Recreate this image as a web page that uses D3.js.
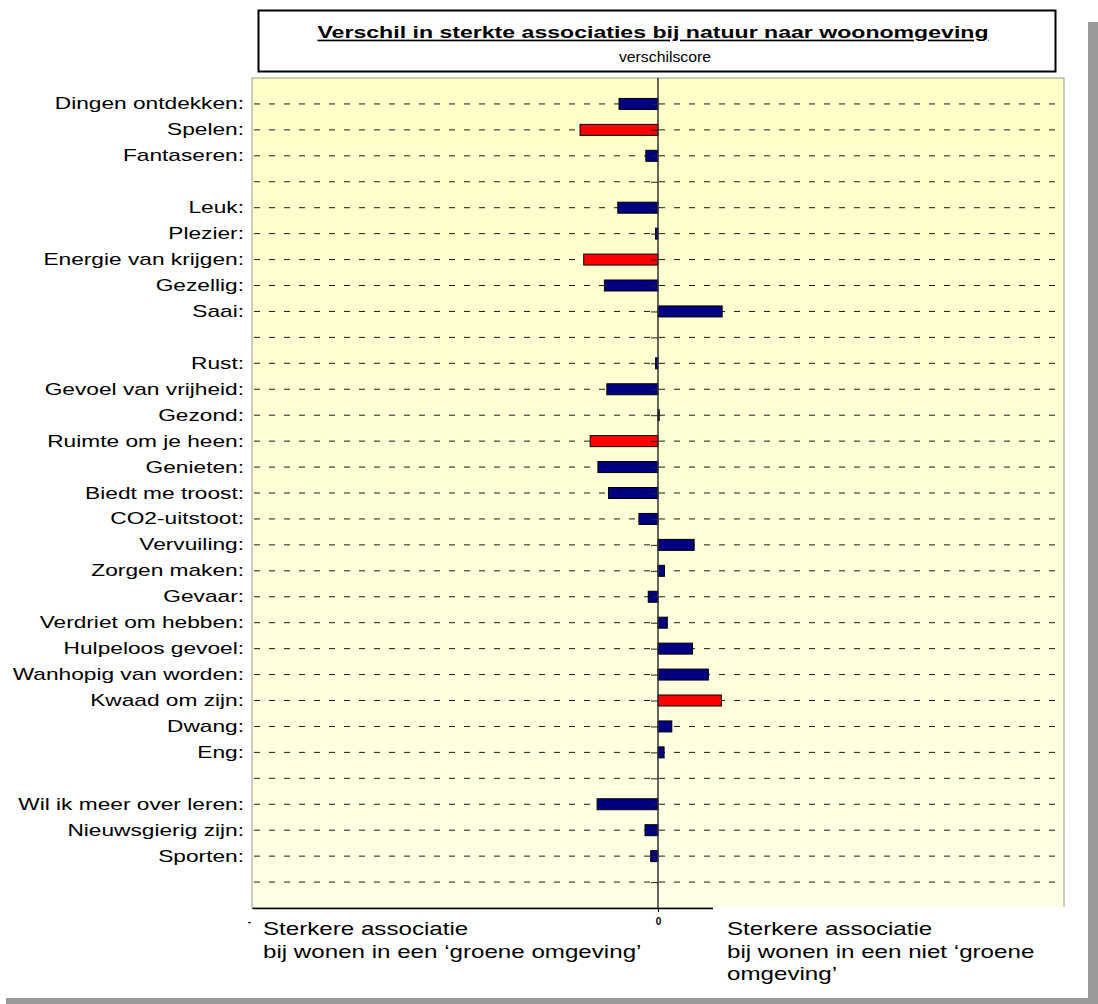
<!DOCTYPE html>
<html>
<head>
<meta charset="utf-8">
<script src="https://cdn.jsdelivr.net/npm/d3@7"></script>
<style>
  body { margin: 0; background: #fff; }
  text { font-family: Arial, "Liberation Sans", sans-serif; fill: #000; }
</style>
</head>
<body>
<div id="chart"></div>
<script>
// categories, top to bottom ("" = empty spacer row)
const categories = [
  "Dingen ontdekken:", "Spelen:", "Fantaseren:", "",
  "Leuk:", "Plezier:", "Energie van krijgen:", "Gezellig:", "Saai:", "",
  "Rust:", "Gevoel van vrijheid:", "Gezond:", "Ruimte om je heen:", "Genieten:",
  "Biedt me troost:", "CO2-uitstoot:", "Vervuiling:", "Zorgen maken:", "Gevaar:",
  "Verdriet om hebben:", "Hulpeloos gevoel:", "Wanhopig van worden:", "Kwaad om zijn:",
  "Dwang:", "Eng:", "",
  "Wil ik meer over leren:", "Nieuwsgierig zijn:", "Sporten:", ""
];
// verschilscore per category (negative = groene omgeving)
const scores = [
  -0.096, -0.192, -0.030, null,
  -0.099, -0.006, -0.183, -0.132, 0.158, null,
  -0.006, -0.126, 0.003, -0.167, -0.148,
  -0.122, -0.047, 0.089, 0.016, -0.024,
  0.023, 0.085, 0.124, 0.156,
  0.034, 0.015, null,
  -0.150, -0.032, -0.018, null
];
// categories drawn in red
const highlighted = ["Spelen:", "Energie van krijgen:", "Ruimte om je heen:", "Kwaad om zijn:"];
const xDomain = [-1, 1];
const xTicks = [-1, 0];
const xTickLabels = ["-", "0"];

const title = "Verschil in sterkte associaties bij natuur naar woonomgeving";
const subtitle = "verschilscore";
const leftNote = ["Sterkere associatie", "bij wonen in een \u2018groene omgeving\u2019"];
const rightNote = ["Sterkere associatie", "bij wonen in een niet \u2018groene", "omgeving\u2019"];

const W = 1098, H = 1004;
const plot = {left: 252, right: 1064, top: 78, bottom: 908};
const stretch = 1.42; // the source text is drawn wide

const svg = d3.select("#chart").append("svg")
  .attr("width", W).attr("height", H);

const defs = svg.append("defs");
const grad = defs.append("linearGradient")
  .attr("id", "bg").attr("x1", 0).attr("y1", 0).attr("x2", 0).attr("y2", 1);
grad.append("stop").attr("offset", "0%").attr("stop-color", "#ffffc8");
grad.append("stop").attr("offset", "100%").attr("stop-color", "#ffffe6");

const x = d3.scaleLinear().domain(xDomain).range([plot.left, plot.right]);
const y = d3.scalePoint().domain(d3.range(categories.length))
  .range([plot.top, plot.bottom]).padding(1);
const barH = 11;

function wide(sel, px, py, sx) {
  sel.attr("transform", "translate(" + px + "," + py + ") scale(" + sx + ",1)");
}

// cut-off text at the very top
svg.append("text").attr("x", 74).attr("y", -3)
  .style("font-size", "17px").text("y");

// plot background
svg.append("rect")
  .attr("x", plot.left).attr("y", plot.top)
  .attr("width", plot.right - plot.left).attr("height", plot.bottom - plot.top)
  .attr("fill", "url(#bg)").attr("stroke", "#9a9a8a").attr("stroke-width", 1);

// dashed gridlines through every row
svg.append("g").selectAll("line")
  .data(y.domain())
  .enter().append("line")
  .attr("x1", plot.left + 2).attr("x2", plot.right - 2)
  .attr("y1", d => y(d)).attr("y2", d => y(d))
  .attr("stroke", "#1a1a1a").attr("stroke-width", 1)
  .attr("stroke-dasharray", "6,9");

// bars
svg.append("g").selectAll("rect")
  .data(categories.map((c, i) => ({i: i, name: c, v: scores[i]})).filter(d => d.v !== null))
  .enter().append("rect")
  .attr("x", d => x(Math.min(0, d.v)))
  .attr("y", d => y(d.i) - barH / 2)
  .attr("width", d => Math.abs(x(d.v) - x(0)))
  .attr("height", barH)
  .attr("fill", d => highlighted.includes(d.name) ? "#ff0000" : "#000080")
  .attr("stroke", "#000").attr("stroke-width", 1);

// category axis sits on zero, ticks pointing left
const catAxis = svg.append("g")
  .attr("transform", "translate(" + x(0) + ",0)")
  .call(d3.axisLeft(y).tickSize(7).tickSizeOuter(0).tickFormat(""));
catAxis.select(".domain").attr("stroke", "#333").attr("stroke-width", 1.5)
  .attr("d", "M0," + plot.top + "V" + plot.bottom);
catAxis.selectAll(".tick line").attr("stroke", "#222");

// category labels
const labels = svg.append("g").selectAll("text")
  .data(y.domain())
  .enter().append("text")
  .attr("text-anchor", "end")
  .style("font-size", "16px")
  .text(d => categories[d]);
labels.each(function(d) { wide(d3.select(this), 244, y(d) + 5.5, stretch); });

// value axis at the bottom
const valAxis = svg.append("g")
  .attr("transform", "translate(0," + plot.bottom + ")")
  .call(d3.axisBottom(x).tickValues(xTicks).tickSize(4).tickSizeOuter(0)
    .tickFormat((d, i) => xTickLabels[i]));
valAxis.select(".domain").attr("stroke", "#000").attr("stroke-width", 1.5);
valAxis.selectAll(".tick line").attr("stroke", "#000");
valAxis.selectAll(".tick text").style("font-size", "10px").style("font-weight", "bold")
  .attr("y", 10);
valAxis.selectAll(".tick").filter(d => d === xTicks[0]).select("text").attr("x", -3);
valAxis.selectAll(".tick").filter(d => d === xTicks[0]).select("line").remove();

// white note boxes below the chart
svg.append("rect").attr("x", 713).attr("y", plot.bottom - 1)
  .attr("width", 374).attr("height", 88).attr("fill", "#fff");

leftNote.forEach((t, i) => {
  wide(svg.append("text").style("font-size", "17.5px").text(t), 263, 935 + i * 22.5, 1.38);
});
rightNote.forEach((t, i) => {
  wide(svg.append("text").style("font-size", "17.5px").text(t), 727, 935 + i * 22.5, 1.38);
});

// title box
svg.append("rect")
  .attr("x", 258.5).attr("y", 10.5).attr("width", 797).attr("height", 61)
  .attr("fill", "#fff").attr("stroke", "#000").attr("stroke-width", 2);
wide(svg.append("text").attr("text-anchor", "middle")
  .style("font-size", "16.5px").style("font-weight", "bold")
  .style("text-decoration", "underline").text(title), 653, 38, 1.4);
wide(svg.append("text").attr("text-anchor", "middle")
  .style("font-size", "14px").text(subtitle), 665, 62, 1.13);

// grey frame (right and bottom)
svg.append("rect").attr("x", 1088).attr("y", 22).attr("width", 10).attr("height", H - 22)
  .attr("fill", "#999");
svg.append("rect").attr("x", 6).attr("y", 998).attr("width", W - 6).attr("height", 6)
  .attr("fill", "#999");
</script>
</body>
</html>
